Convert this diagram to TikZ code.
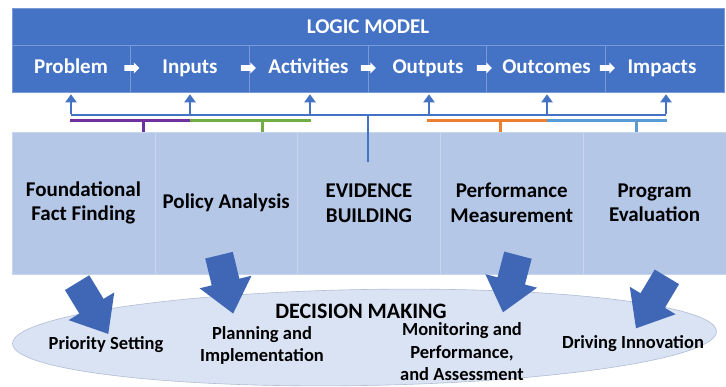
\documentclass[tikz,border=0pt]{standalone}
\usepackage{fontspec}
\setmainfont{Carlito}
\usetikzlibrary{shapes.arrows,shapes.geometric,arrows.meta}
\definecolor{banner}{HTML}{4472C4}
\definecolor{bannerline}{HTML}{7A9AD6}
\definecolor{boxfill}{HTML}{B4C7E7}
\definecolor{boxline}{HTML}{C8D5EE}
\definecolor{ellfill}{HTML}{DAE3F3}
\definecolor{ellline}{HTML}{B0BDD3}
\definecolor{arrowblue}{HTML}{3F67B6}
\definecolor{cpurple}{HTML}{7030A0}
\definecolor{cgreen}{HTML}{70AD47}
\definecolor{corange}{HTML}{ED7D31}
\definecolor{clight}{HTML}{5B9BD5}
\tikzset{
  titlecell/.style={fill=banner, draw=bannerline, line width=0.6pt, minimum width=712pt, minimum height=37pt, inner sep=0pt, text=white, font=\bfseries\fontsize{21}{24}\selectfont},
  lmcell/.style={fill=banner, draw=bannerline, line width=0.6pt, minimum width=118.67pt, minimum height=47pt, inner sep=0pt},
  lmtext/.style={text=white, inner sep=0pt, text height=14pt, text depth=4pt, font=\bfseries\fontsize{21}{24}\selectfont},
  evbox/.style={fill=boxfill, draw=boxline, line width=0.6pt, minimum width=142.8pt, minimum height=142pt, inner sep=0pt, align=center, text=black, font=\bfseries\fontsize{21}{24.5}\selectfont},
  whitearrow/.style={single arrow, fill=white, draw=none, minimum height=15pt, minimum width=0pt, inner xsep=0pt, inner ysep=2.7pt, single arrow head extend=2.6pt, single arrow tip angle=90},
  blockarrow/.style={single arrow, fill=arrowblue, draw=none, minimum width=0pt, inner xsep=0pt, inner ysep=14pt, single arrow head extend=12.5pt, single arrow tip angle=79, anchor=tail},
  uparrow/.style={draw=banner, line width=2.4pt, -{Triangle[width=11pt,length=8pt]}},
  bluebracket/.style={draw=banner, line width=2.4pt},
  colbracket/.style={line width=3pt},
  elltext/.style={align=center, text=black, font=\bfseries\fontsize{18.5}{22.5}\selectfont},
}
\begin{document}
\begin{tikzpicture}[x=1pt,y=-1pt]
\useasboundingbox[fill=white] (0,0) rectangle (726,387);
% Logic model banner
\node[titlecell] (title) at (368,26.5) {LOGIC MODEL};
\node[lmcell] (p1) at (71.33,68.5) {};
\node[lmcell] (p2) at (190,68.5) {};
\node[lmcell] (p3) at (308.67,68.5) {};
\node[lmcell] (p4) at (427.33,68.5) {};
\node[lmcell] (p5) at (546,68.5) {};
\node[lmcell] (p6) at (664.67,68.5) {};
\node[lmtext] (t1) at (71,68.5) {Problem};
\node[lmtext] (t2) at (190,68.5) {Inputs};
\node[lmtext] (t3) at (308.5,68.5) {Activities};
\node[lmtext] (t4) at (428,68.5) {Outputs};
\node[lmtext] (t5) at (546.5,68.5) {Outcomes};
\node[lmtext] (t6) at (662,68.5) {Impacts};
\node[whitearrow] (w1) at (130.5,68) {};
\node[whitearrow] (w2) at (247,68) {};
\node[whitearrow] (w3) at (367,68) {};
\node[whitearrow] (w4) at (483,68) {};
\node[whitearrow] (w5) at (606,68) {};
% evidence building boxes
\node[evbox] (f1) at (83.4,203) {Foundational\\Fact Finding};
\node[evbox] (f2) at (226.2,203) {Policy Analysis};
\node[evbox] (f3) at (369,203) {EVIDENCE\\BUILDING};
\node[evbox] (f4) at (511.8,203) {Performance\\Measurement};
\node[evbox] (f5) at (654.6,203) {Program\\Evaluation};
% bracket coordinates
\coordinate (k1) at (71,115);
\coordinate (k2) at (190,115);
\coordinate (k3) at (310,115);
\coordinate (k4) at (429,115);
\coordinate (k5) at (547,115);
\coordinate (k6) at (666,115);
\coordinate (e0) at (368,115);
\coordinate (e1) at (368,162);
\draw[bluebracket] (k1) -- (k6);
\draw[bluebracket] (e0) -- (e1);
\foreach \i in {1,...,6}{
  \draw[uparrow] ([yshift=1.2pt]k\i) -- ([yshift=-2pt]k\i |- p\i.south);
}
\coordinate (q1) at (70,121);
\coordinate (q2) at (190,121);
\coordinate (q3) at (311,121);
\coordinate (q4) at (427,121);
\coordinate (q5) at (547,121);
\coordinate (q6) at (667,121);
\coordinate (s1) at (143,121);
\coordinate (s2) at (262,121);
\coordinate (s4) at (500,121);
\coordinate (s5) at (636,121);
\draw[colbracket, cpurple] (q1) -- (q2);
\draw[colbracket, cgreen] (q2) -- (q3);
\draw[colbracket, corange] (q4) -- (q5);
\draw[colbracket, clight] (q5) -- (q6);
\draw[colbracket, cpurple] (s1) -- (s1 |- f1.north);
\draw[colbracket, cgreen] (s2) -- (s2 |- f2.north);
\draw[colbracket, corange] (s4) -- (s4 |- f4.north);
\draw[colbracket, clight] (s5) -- (s5 |- f5.north);
% decision making ellipse
\node[ellipse, fill=ellfill, draw=ellline, line width=0.6pt, minimum width=704pt, minimum height=96pt, inner sep=0pt, rotate=1] (dm) at (364.5,337.5) {};
% block arrows (placed by their tail)
\node[blockarrow, minimum height=60pt, rotate=-58.7] (a1) at (77,282.5) {};
\node[blockarrow, minimum height=60pt, rotate=-76.4] (a2) at (219,255) {};
\node[blockarrow, minimum height=59pt, rotate=-104.7] (a3) at (518,255) {};
\node[blockarrow, minimum height=60pt, rotate=-121] (a4) at (667,276.7) {};
% texts in ellipse
\node[elltext, font=\bfseries\fontsize{22}{24}\selectfont] (dmt) at (361,311) {DECISION MAKING};
\node[elltext] (d1) at (106,345) {Priority Setting};
\node[elltext] (d2) at (262,345.5) {Planning and\\Implementation};
\node[elltext] (d3) at (462,352) {Monitoring and\\Performance,\\and Assessment};
\node[elltext] (d4) at (633,344) {Driving Innovation};
\end{tikzpicture}
\end{document}
